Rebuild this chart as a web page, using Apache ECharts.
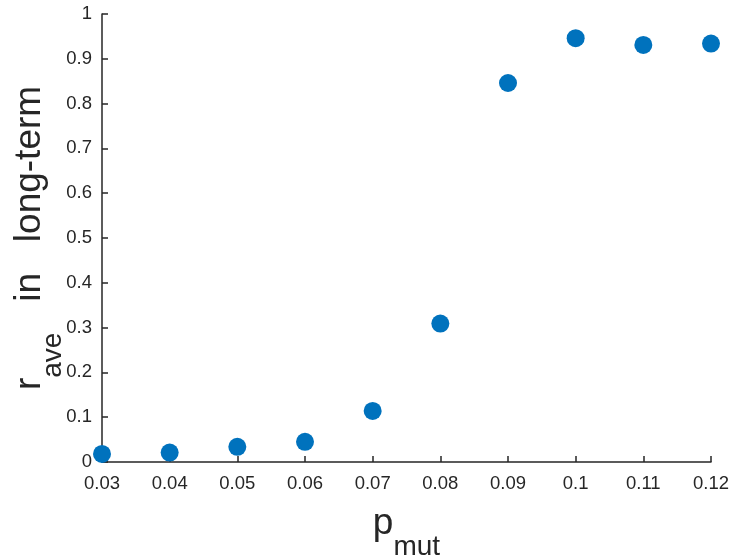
<!DOCTYPE html>
<html>
<head>
<meta charset="utf-8">
<script src="https://cdn.jsdelivr.net/npm/echarts@6/dist/echarts.min.js"></script>
<style>
  html, body { margin: 0; padding: 0; background: #fff; }
  #chart { width: 730px; height: 556px; }
</style>
</head>
<body>
<div id="chart"></div>
<script>
// mutation probability (x) and long-term average r (y)
const pMut = [0.03, 0.04, 0.05, 0.06, 0.07, 0.08, 0.09, 0.10, 0.11, 0.12];
const rAve = [0.018, 0.021, 0.034, 0.045, 0.114, 0.309, 0.846, 0.946, 0.931, 0.934];

const axisColor = '#262626';

// main text raised by bottom padding so the second token reads as a subscript
const nameRich = {
  main: { fontSize: 37, fontFamily: 'Liberation Sans', color: axisColor, verticalAlign: 'bottom', padding: [0, 0, 19, 0] },
  sub: { fontSize: 28, fontFamily: 'Liberation Sans', color: axisColor, verticalAlign: 'bottom' }
};

const chart = echarts.init(document.getElementById('chart'));
chart.setOption({
  backgroundColor: '#fff',
  animation: false,
  grid: { left: 102, right: 19, top: 14, bottom: 94, containLabel: false, outerBoundsMode: 'none' },
  xAxis: {
    type: 'value',
    min: 0.03,
    max: 0.12,
    interval: 0.01,
    name: '{main|p}{sub|mut}',
    nameLocation: 'middle',
    nameGap: 43,
    nameMoveOverlap: false,
    nameTextStyle: { rich: nameRich },
    axisLine: { lineStyle: { color: axisColor, width: 1.5 } },
    axisTick: { inside: true, length: 6, lineStyle: { color: axisColor, width: 1.5 } },
    axisLabel: { color: axisColor, fontSize: 18.5, fontFamily: 'Liberation Sans', margin: 12 },
    splitLine: { show: false }
  },
  yAxis: {
    type: 'value',
    min: 0,
    max: 1,
    interval: 0.1,
    name: '{main|r}{sub|ave}{main|   in   long-term}',
    nameLocation: 'middle',
    nameRotate: 90,
    nameGap: 35,
    nameMoveOverlap: false,
    nameTextStyle: { rich: nameRich },
    axisLine: { show: true, lineStyle: { color: axisColor, width: 1.5 } },
    axisTick: { show: true, inside: true, length: 6, lineStyle: { color: axisColor, width: 1.5 } },
    axisLabel: { color: axisColor, fontSize: 18.5, fontFamily: 'Liberation Sans', margin: 10 },
    splitLine: { show: false }
  },
  series: [{
    type: 'scatter',
    symbolSize: 18,
    itemStyle: { color: '#0072BD', opacity: 1 },
    data: pMut.map((p, i) => [p, rAve[i]])
  }]
});
</script>
</body>
</html>
